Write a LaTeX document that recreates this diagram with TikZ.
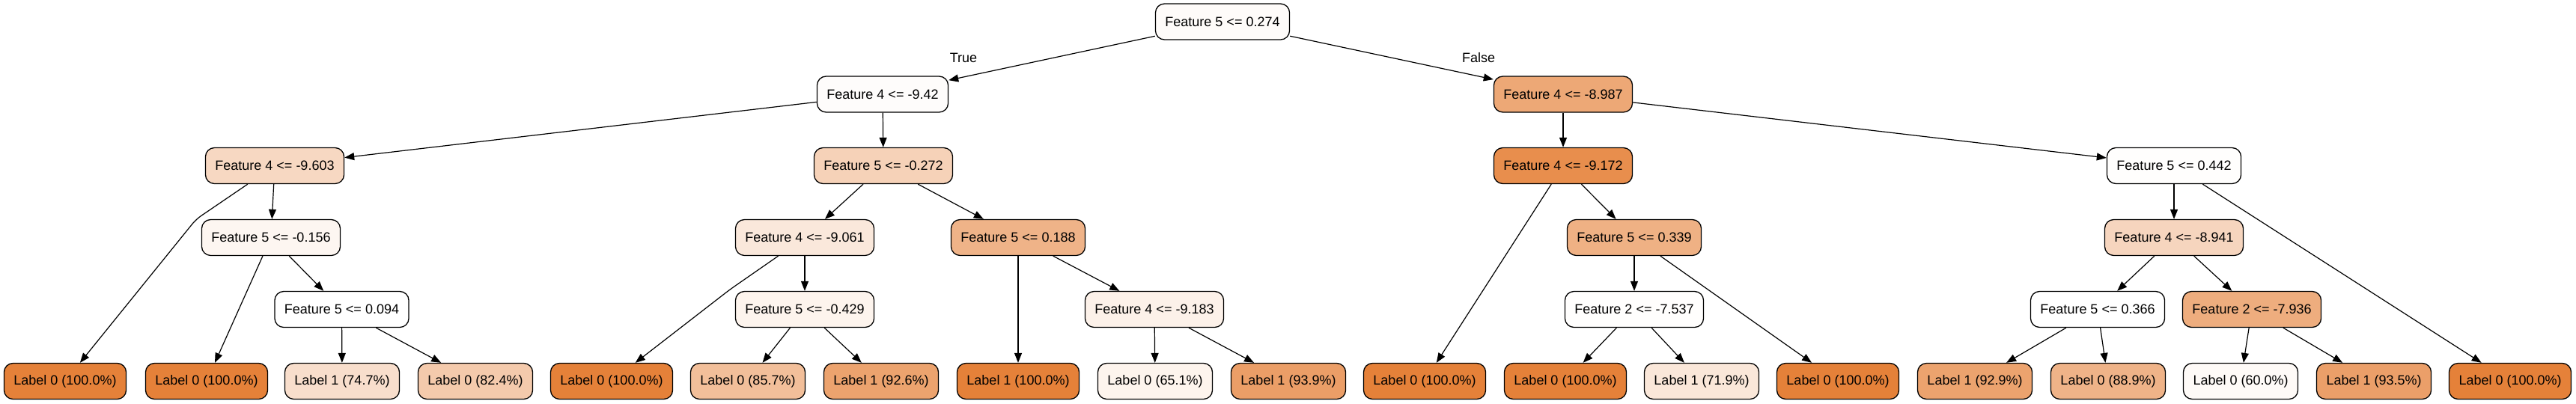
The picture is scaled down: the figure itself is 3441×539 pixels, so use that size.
\documentclass[tikz,border=0pt]{standalone}
\usepackage{fontspec}
\setmainfont{Liberation Sans}
\usetikzlibrary{arrows.meta}
\definecolor{gvor}{HTML}{E58139}
\begin{document}
\begin{tikzpicture}[x=1pt,y=-1pt,
  box/.style={draw, line width=1.3pt, rounded corners=12pt, minimum height=48pt,
    inner xsep=13pt, inner ysep=0pt, font=\fontsize{18}{22}\selectfont, text=black},
  fo/.style={fill=gvor!#1!white},
  conn/.style={line width=1.2pt, -{Triangle[length=13pt,width=10pt]}},
  lbl/.style={font=\fontsize{18}{22}\selectfont}]
\useasboundingbox (0,0) rectangle (3441,539);
% internal nodes
\node[box,fo=3]  (r) at (1633,29) {Feature 5 <= 0.274};
\node[box,fo=2]  (a) at (1179,126) {Feature 4 <= -9.42};
\node[box,fo=69] (b) at (2088,126) {Feature 4 <= -8.987};
\node[box,fo=31] (c) at (367,221.5) {Feature 4 <= -9.603};
\node[box,fo=36] (d) at (1180,221.5) {Feature 5 <= -0.272};
\node[box,fo=90] (e) at (2088,221.5) {Feature 4 <= -9.172};
\node[box,fo=1]  (f) at (2904,221.5) {Feature 5 <= 0.442};
\node[box,fo=7]  (g) at (362,317.5) {Feature 5 <= -0.156};
\node[box,fo=18] (h) at (1075,317.5) {Feature 4 <= -9.061};
\node[box,fo=60] (i) at (1360,317.5) {Feature 5 <= 0.188};
\node[box,fo=62] (j) at (2183,317.5) {Feature 5 <= 0.339};
\node[box,fo=33] (k) at (2904,317.5) {Feature 4 <= -8.941};
\node[box,fo=0]  (l) at (456.5,413.5) {Feature 5 <= 0.094};
\node[box,fo=9]  (m) at (1075,413.5) {Feature 5 <= -0.429};
\node[box,fo=11] (n) at (1542,413.5) {Feature 4 <= -9.183};
\node[box,fo=1]  (o) at (2183,413.5) {Feature 2 <= -7.537};
\node[box,fo=0]  (p) at (2802,413.5) {Feature 5 <= 0.366};
\node[box,fo=65] (q) at (3008,413.5) {Feature 2 <= -7.936};
% leaves
\node[box,fo=100] (l1)  at (87,509.5)   {Label 0 (100.0\%)};
\node[box,fo=100] (l2)  at (276,509.5)  {Label 0 (100.0\%)};
\node[box,fo=26]  (l3)  at (457,509.5)  {Label 1 (74.7\%)};
\node[box,fo=42]  (l4)  at (635,509.5)  {Label 0 (82.4\%)};
\node[box,fo=100] (l5)  at (817,509.5)  {Label 0 (100.0\%)};
\node[box,fo=51]  (l6)  at (999,509.5)  {Label 0 (85.7\%)};
\node[box,fo=73]  (l7)  at (1177,509.5) {Label 1 (92.6\%)};
\node[box,fo=100] (l8)  at (1360,509.5) {Label 1 (100.0\%)};
\node[box,fo=9]   (l9)  at (1543,509.5) {Label 0 (65.1\%)};
\node[box,fo=77]  (l10) at (1721,509.5) {Label 1 (93.9\%)};
\node[box,fo=100] (l11) at (1903,509.5) {Label 0 (100.0\%)};
\node[box,fo=100] (l12) at (2091,509.5) {Label 0 (100.0\%)};
\node[box,fo=19]  (l13) at (2273,509.5) {Label 1 (71.9\%)};
\node[box,fo=100] (l14) at (2455,509.5) {Label 0 (100.0\%)};
\node[box,fo=73]  (l15) at (2638,509.5) {Label 1 (92.9\%)};
\node[box,fo=60]  (l16) at (2816,509.5) {Label 0 (88.9\%)};
\node[box,fo=4]   (l17) at (2993,509.5) {Label 0 (60.0\%)};
\node[box,fo=76]  (l18) at (3171,509.5) {Label 1 (93.5\%)};
\node[box,fo=100] (l19) at (3353,509.5) {Label 0 (100.0\%)};
% bend points
\coordinate (w1) at (262,293);
\coordinate (w2) at (975,387);
% edge labels
\node[lbl] (tt) at (1287,77) {True};
\node[lbl] (ff) at (1975,77) {False};
% edges
\draw[conn] (r) -- (a);
\draw[conn] (r) -- (b);
\draw[conn] (a) -- (c);
\draw[conn] (a) -- (d);
\draw[conn,rounded corners=8pt] (c) -- (w1) -- (l1);
\draw[conn] (c) -- (g);
\draw[conn] (g) -- (l2);
\draw[conn] (g) -- (l);
\draw[conn] (l) -- (l3);
\draw[conn] (l) -- (l4);
\draw[conn] (d) -- (h);
\draw[conn] (d) -- (i);
\draw[conn,rounded corners=8pt] (h) -- (w2) -- (l5);
\draw[conn] (h) -- (m);
\draw[conn] (m) -- (l6);
\draw[conn] (m) -- (l7);
\draw[conn] (i) -- (l8);
\draw[conn] (i) -- (n);
\draw[conn] (n) -- (l9);
\draw[conn] (n) -- (l10);
\draw[conn] (b) -- (e);
\draw[conn] (b) -- (f);
\draw[conn] (e) -- (l11);
\draw[conn] (e) -- (j);
\draw[conn] (j) -- (o);
\draw[conn] (j) -- (l14);
\draw[conn] (o) -- (l12);
\draw[conn] (o) -- (l13);
\draw[conn] (f) -- (k);
\draw[conn] (f) -- (l19);
\draw[conn] (k) -- (p);
\draw[conn] (k) -- (q);
\draw[conn] (p) -- (l15);
\draw[conn] (p) -- (l16);
\draw[conn] (q) -- (l17);
\draw[conn] (q) -- (l18);
\end{tikzpicture}
\end{document}
